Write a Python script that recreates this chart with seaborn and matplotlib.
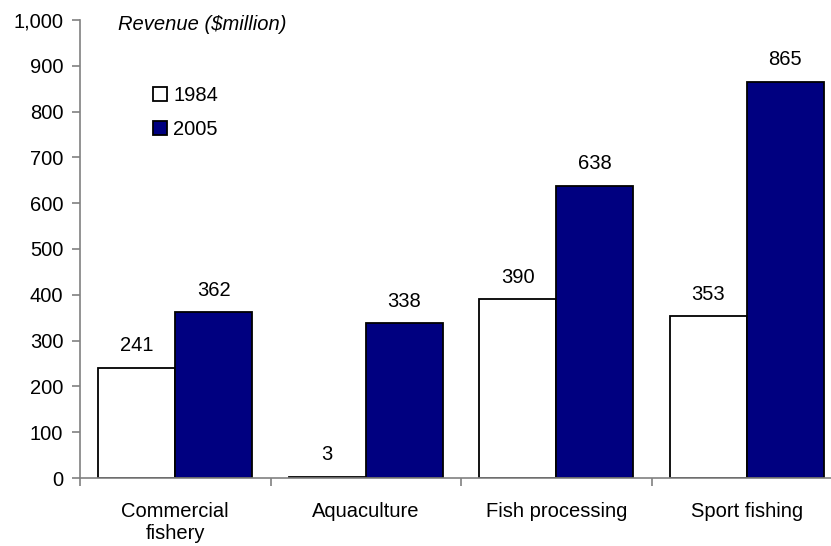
import matplotlib
matplotlib.use("Agg")
import matplotlib.pyplot as plt
import seaborn as sns
import pandas as pd
from matplotlib.ticker import FuncFormatter, FixedLocator

sectors = ["Commercial\nfishery", "Aquaculture", "Fish processing", "Sport fishing"]
years = ["1984", "2005"]
revenue_1984 = [241, 3, 390, 353]
revenue_2005 = [362, 338, 638, 865]

df = pd.DataFrame({
    "sector": sectors * 2,
    "year": [years[0]] * 4 + [years[1]] * 4,
    "revenue": revenue_1984 + revenue_2005,
})

sns.set_style("white")
plt.rcParams["font.family"] = ["Liberation Sans", "DejaVu Sans"]
plt.rcParams["text.color"] = "black"
plt.rcParams["xtick.labelcolor"] = "black"
plt.rcParams["ytick.labelcolor"] = "black"

FS = 14.5

fig = plt.figure(figsize=(8.31, 5.46), dpi=100)
ax = fig.add_axes([80 / 831, 68 / 546, 762 / 831, 458 / 546])

sns.barplot(
    data=df, x="sector", y="revenue", hue="year", order=sectors, hue_order=years,
    palette={"1984": "#ffffff", "2005": "#000080"}, saturation=1,
    edgecolor="black", linewidth=1.3, width=0.81, gap=0, ax=ax, legend=True,
)

for container in ax.containers:
    ax.bar_label(container, fmt="%d", padding=9, fontsize=FS, color="black")

ax.set_xlim(-0.5, 3.5)
ax.set_ylim(0, 1000)
ax.set_yticks(range(0, 1001, 100))
ax.yaxis.set_major_formatter(FuncFormatter(lambda v, p: f"{int(v):,}"))
ax.set_xlabel("")
ax.set_ylabel("")

for s in ["top", "right"]:
    ax.spines[s].set_visible(False)
for s in ["left", "bottom"]:
    ax.spines[s].set_color("#808080")
    ax.spines[s].set_linewidth(1.2)

ax.tick_params(axis="y", direction="out", length=6, width=1.2, color="#808080",
               labelsize=FS, left=True, pad=6)
ax.tick_params(axis="x", which="major", length=0, labelsize=FS, pad=17)
ax.xaxis.set_minor_locator(FixedLocator([-0.5, 0.5, 1.5, 2.5, 3.5]))
ax.tick_params(axis="x", which="minor", direction="out", length=6, width=1.2,
               color="#808080", bottom=True)

ax.text((118 - 80) / 762, (478 - 25) / 458, "Revenue ($million)", transform=ax.transAxes,
        fontsize=FS, style="italic", va="center", ha="left")

handles, labels = ax.get_legend_handles_labels()
ax.legend(handles, labels, loc="upper left",
          bbox_to_anchor=((153 - 80) / 762, (478 - 86) / 458),
          frameon=False, fontsize=FS, handlelength=0.7, handleheight=0.7,
          handletextpad=0.3, labelspacing=0.75, borderaxespad=0, borderpad=0)

fig.savefig("out.png", dpi=100)
